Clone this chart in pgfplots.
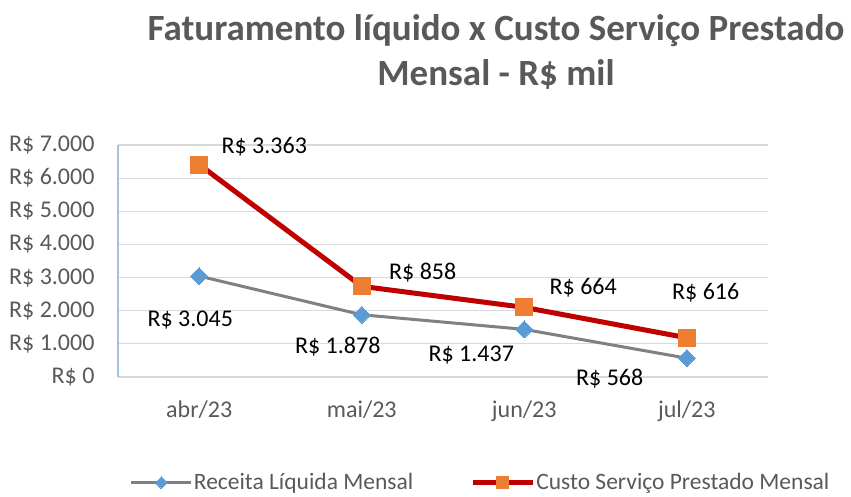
\documentclass[border=0pt]{standalone}
\usepackage{fontspec}
\setmainfont{Carlito}
\usepackage{pgfplots}
\usepackage{pgfplotstable}
\pgfplotsset{compat=1.18}
\definecolor{txtgray}{HTML}{595959}
\definecolor{gridgray}{HTML}{D9D9D9}
\definecolor{axblue}{HTML}{9DC3E6}
\definecolor{linegray}{HTML}{808080}
\definecolor{dblue}{HTML}{5B9BD5}
\definecolor{dred}{HTML}{C00000}
\definecolor{orng}{HTML}{ED7D31}

\pgfplotstableread[col sep=comma]{
x,y,lab,dx,dy
0,3045,3.045,-9,-44
1,1878,1.878,-24,-32
2,1437,1.437,-53,-26
3,568,568,-77,-20
}\receita
\pgfplotstableread[col sep=comma]{
x,y,lab,dx,dy
0,3363,3.363,65,18
1,858,858,61,14
2,664,664,59,20
3,616,616,19,45
}\custo

\begin{document}
\begin{tikzpicture}
\useasboundingbox (0,0) rectangle (851pt,496pt);
\node[font=\fontsize{37}{45}\selectfont\bfseries, text=txtgray, align=center] at (496pt,444pt) {Faturamento líquido x Custo Serviço Prestado\\Mensal - R\$ mil};
\begin{axis}[
  at={(118pt,119pt)}, anchor=south west,
  scale only axis, width=650pt, height=232pt,
  xmin=-0.5, xmax=3.5, ymin=0, ymax=7000,
  xtick={0,1,2,3}, xticklabels={abr/23,mai/23,jun/23,jul/23},
  ytick={0,1000,2000,3000,4000,5000,6000,7000},
  yticklabels={R\$ 0,R\$ 1.000,R\$ 2.000,R\$ 3.000,R\$ 4.000,R\$ 5.000,R\$ 6.000,R\$ 7.000},
  axis x line*=bottom, axis y line*=left,
  x axis line style={draw=gridgray, line width=1.2pt, -},
  y axis line style={draw=axblue, line width=1.4pt, -},
  ymajorgrids, grid style={gridgray, line width=1.2pt},
  major tick length=0pt,
  tick label style={font=\fontsize{24}{28}\selectfont, text=txtgray},
  yticklabel style={xshift=-20pt},
  xticklabel style={yshift=-20pt},
  stack plots=y,
  clip=false,
  point meta=explicit symbolic,
  nodes near coords={R\$ \pgfplotspointmeta},
  visualization depends on={\thisrow{dx} \as \dx},
  visualization depends on={\thisrow{dy} \as \dy},
  every node near coord/.append style={anchor=center, xshift=\dx pt, yshift=\dy pt, font=\fontsize{24}{28}\selectfont, text=black},
  legend image code/.code={\draw[mark repeat=2,mark phase=2,#1,every mark/.append style={scale=0.7}] plot coordinates {(0pt,0pt)(30pt,0pt)(60pt,0pt)};},
  legend columns=2,
  legend style={draw=none, fill=none, at={(axis description cs:0.018,-0.455)}, anchor=west,
    inner sep=0pt, font=\fontsize{23.5}{28}\selectfont, text=txtgray,
    nodes={inner sep=1pt},
    /tikz/every even column/.append style={column sep=56pt}},
]
\addplot[linegray, line width=3pt, mark=square*, mark size=6pt, mark options={rotate=45, fill=dblue, draw=dblue, line width=0pt}]
  table[x=x, y=y, meta=lab] {\receita};
\addlegendentry{Receita Líquida Mensal}
\addplot[dred, line width=5pt, mark=square*, mark size=8.5pt, mark options={fill=orng, draw=orng, line width=0pt}]
  table[x=x, y=y, meta=lab] {\custo};
\addlegendentry{Custo Serviço Prestado Mensal}
\end{axis}
\end{tikzpicture}
\end{document}
